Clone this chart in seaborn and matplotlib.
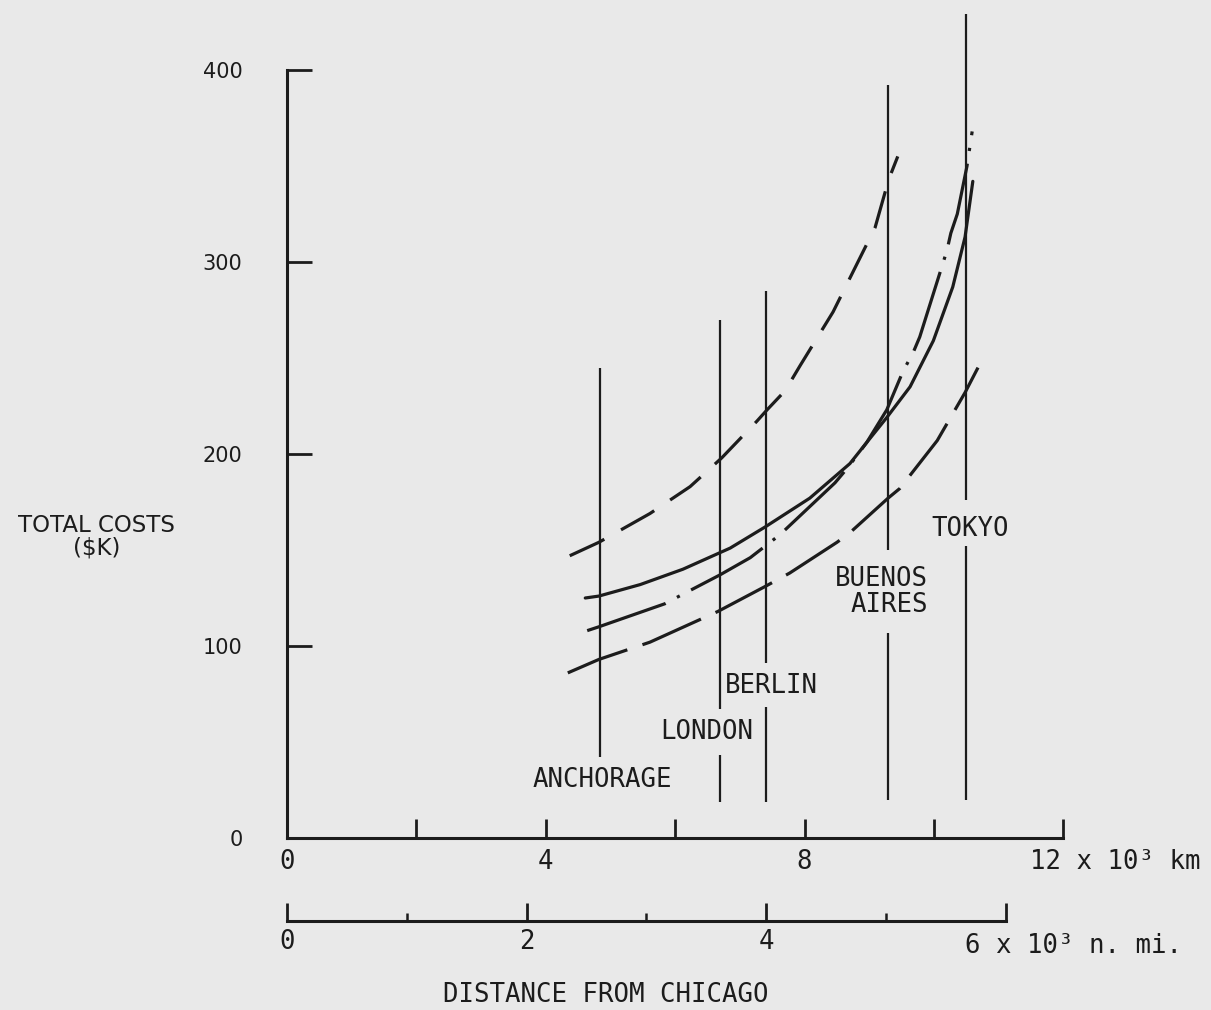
import pandas as pd
import matplotlib
matplotlib.use("Agg")
import matplotlib.pyplot as plt
import seaborn as sns

# curve readings: distance (10^3 km) vs total cost ($K)
short_km = [4.37, 4.82, 5.61, 6.23, 6.72, 7.26, 7.42, 7.70, 7.93, 8.44, 8.75, 9.09, 9.30, 9.44]
short_cost = [147, 154, 169, 183, 198, 217, 223, 233, 246, 274, 295, 318, 343, 355]

solid_km = [4.61, 4.82, 5.46, 6.12, 6.85, 7.39, 8.08, 8.70, 8.96, 9.27, 9.63, 9.99, 10.29, 10.48, 10.60]
solid_cost = [125, 126, 132, 140, 151, 162, 177, 195, 206, 219, 235, 259, 287, 313, 342]

dashdot_km = [4.64, 4.82, 5.84, 6.12, 6.69, 7.16, 7.39, 7.62, 8.47, 8.67, 8.96, 9.27, 9.52, 9.68,
              9.78, 10.20, 10.26, 10.36, 10.51, 10.59]
dashdot_cost = [108, 110, 122, 127, 137, 146, 152, 158, 185, 193, 206, 223, 243, 253,
                261, 306, 315, 325, 350, 368]

long_km = [4.34, 4.82, 5.61, 6.66, 7.39, 7.77, 8.50, 8.70, 9.29, 9.47, 10.05, 10.17, 10.48, 10.68]
long_cost = [86, 93, 102, 118, 131, 138, 154, 159, 177, 182, 207, 214, 232, 245]

# destination markers
cities = ["ANCHORAGE", "LONDON", "BERLIN", "BUENOS\nAIRES", "TOKYO"]
city_km = [4.83, 6.69, 7.40, 9.29, 10.49]
line_bottom = [42, 19, 19, 20, 20]
gap_bottom = [150, 43, 68, 107, 152]
gap_top = [150, 67, 91, 150, 176]
line_top = [245, 270, 285, 392, 429]

df = pd.concat([
    pd.DataFrame({"km": short_km, "cost": short_cost, "curve": "short"}),
    pd.DataFrame({"km": solid_km, "cost": solid_cost, "curve": "solid"}),
    pd.DataFrame({"km": dashdot_km, "cost": dashdot_cost, "curve": "dashdot"}),
    pd.DataFrame({"km": long_km, "cost": long_cost, "curve": "long"}),
])

bg = "#e9e9e9"
ink = "#1c1c1c"
sns.set_style("white")
plt.rcParams["font.family"] = ["DejaVu Sans Mono", "DejaVu Sans"]

W, H = 1211, 1010
PX_KM, PX_K = 64.7, 1.92
X0, Y0 = 287, 838
XMAX, YMAX = 14.2, 435

fig = plt.figure(figsize=(W / 100, H / 100), dpi=100, facecolor=bg)
ax = fig.add_axes([X0 / W, (H - Y0) / H, XMAX * PX_KM / W, YMAX * PX_K / H])
ax.set_facecolor("none")
ax.set_xlim(0, XMAX)
ax.set_ylim(0, YMAX)

sns.lineplot(data=df, x="km", y="cost", style="curve", sort=False, estimator=None,
             color=ink, linewidth=2.3, legend=False, ax=ax,
             dashes={"short": (12, 6), "solid": "", "dashdot": (26, 4, 1, 4), "long": (20, 5)})

ax.vlines(city_km, line_bottom, gap_bottom, color=ink, linewidth=1.6)
ax.vlines(city_km, gap_top, line_top, color=ink, linewidth=1.6)

lab = dict(fontsize=18.5, color=ink, family="DejaVu Sans Mono", va="center")
ax.text(4.87, 30, cities[0], ha="center", **lab)
ax.text(6.49, 55, cities[1], ha="center", **lab)
ax.text(7.48, 79, cities[2], ha="center", **lab)
ax.text(9.91, 128, cities[3], ha="right", multialignment="right", linespacing=1.0, **lab)
ax.text(10.56, 161, cities[4], ha="center", **lab)

# axes in the old drafting style
for s in ["top", "right"]:
    ax.spines[s].set_visible(False)
ax.spines["left"].set_bounds(0, 400)
ax.spines["bottom"].set_bounds(0, 12)
for s in ["left", "bottom"]:
    ax.spines[s].set_linewidth(2.2)
    ax.spines[s].set_color(ink)

ax.set_yticks([0, 100, 200, 300, 400])
ax.set_yticklabels(["0", "100", "200", "300", "400"], family="DejaVu Sans", fontsize=15)
ax.tick_params(axis="y", left=True, direction="in", length=18, width=2, pad=32, colors=ink)
ax.set_xticks([0, 2, 4, 6, 8, 10, 12])
ax.set_xticklabels(["0", "", "4", "", "8", "", ""], family="DejaVu Sans Mono", fontsize=18.5)
ax.tick_params(axis="x", bottom=True, direction="in", length=14, width=2, pad=8, colors=ink)
ax.set_xlabel("")
ax.set_ylabel("")

ax.text(11.48, -12.5, "12 x 10³ km", ha="left", va="center", fontsize=18.5, color=ink,
        family="DejaVu Sans Mono", clip_on=False)
ax.text(-2.94, 157, "TOTAL COSTS\n($K)", ha="center", va="center", fontsize=16.5, color=ink,
        family="DejaVu Sans", linespacing=1.0, clip_on=False)

# nautical mile scale
y_nm = 921
ax2 = fig.add_axes([X0 / W, (H - y_nm) / H, XMAX * PX_KM / W, 0.001])
ax2.set_facecolor("none")
ax2.set_xlim(0, XMAX / 1.852)
ax2.set_yticks([])
for s in ["top", "right", "left"]:
    ax2.spines[s].set_visible(False)
ax2.spines["bottom"].set_bounds(0, 6)
ax2.spines["bottom"].set_linewidth(2.2)
ax2.spines["bottom"].set_color(ink)
ax2.set_xticks([0, 2, 4, 6])
ax2.set_xticklabels(["0", "2", "4", ""], family="DejaVu Sans Mono", fontsize=18.5)
ax2.set_xticks([1, 3, 5], minor=True)
ax2.tick_params(axis="x", which="major", bottom=True, direction="in", length=13, width=2,
                pad=6, colors=ink)
ax2.tick_params(axis="x", which="minor", bottom=True, direction="in", length=6, width=1.8,
                colors=ink)

ax.text(10.48, -56, "6 x 10³ n. mi.", ha="left", va="center", fontsize=18.5, color=ink,
        family="DejaVu Sans Mono", clip_on=False)
ax.text(4.92, -82, "DISTANCE FROM CHICAGO", ha="center", va="center", fontsize=18.5, color=ink,
        family="DejaVu Sans Mono", clip_on=False)

fig.savefig("out.png", dpi=100, facecolor=bg)
